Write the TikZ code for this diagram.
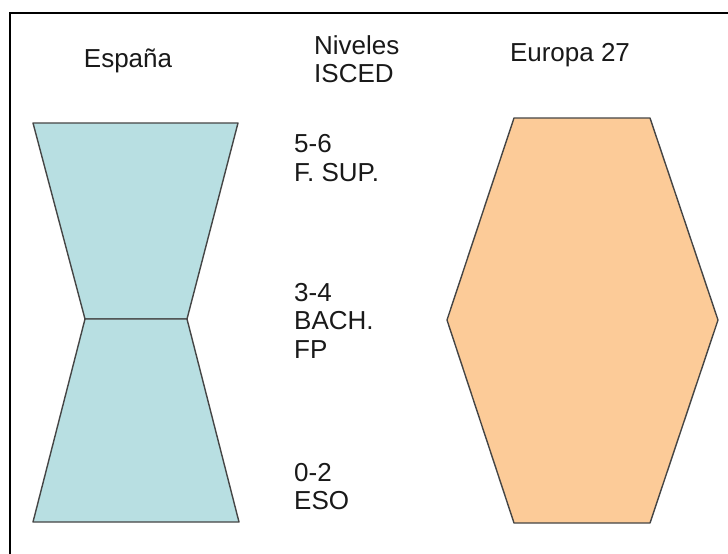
\documentclass[tikz,border=0pt]{standalone}
\usepackage{fontspec}
\setmainfont{Liberation Sans}
\definecolor{spainfill}{HTML}{B8DFE2}
\definecolor{eufill}{HTML}{FCCB98}
\definecolor{edge}{HTML}{454545}
\begin{document}
\begin{tikzpicture}[x=1pt,y=-1pt,
  lbl/.style={inner sep=0pt, font=\fontsize{26}{30}\selectfont, text=black!90},
  shapeline/.style={draw=edge, line width=1.4pt, line join=round}]
\useasboundingbox (0,0) rectangle (728,554);
\fill[white] (0,0) rectangle (728,554);
% frame
\draw[line width=1.5pt] (10,554) -- (10,13) -- (728,13);
% Spain
\filldraw[shapeline, fill=spainfill] (33,123) -- (238,123) -- (187,319) -- (85,319) -- cycle;
\filldraw[shapeline, fill=spainfill] (85,319) -- (187,319) -- (239,522) -- (33,522) -- cycle;
% Europe hexagon
\filldraw[shapeline, fill=eufill] (514,118) -- (650,118) -- (718,320) -- (650,523) -- (514,523) -- (447,320) -- cycle;
% headers
\node[lbl, anchor=base] (es) at (128,67) {España};
\node[lbl, anchor=base west] (niv1) at (314,54) {Niveles};
\node[lbl, anchor=base west] (niv2) at (314,82) {ISCED};
\node[lbl, anchor=base] (eu) at (570,61) {Europa 27};
% levels
\node[lbl, anchor=base west] (l56a) at (294,152) {5-6};
\node[lbl, anchor=base west] (l56b) at (294,181) {F. SUP.};
\node[lbl, anchor=base west] (l34a) at (294,301) {3-4};
\node[lbl, anchor=base west] (l34b) at (294,329) {BACH.};
\node[lbl, anchor=base west] (l34c) at (294,358) {FP};
\node[lbl, anchor=base west] (l02a) at (294,481) {0-2};
\node[lbl, anchor=base west] (l02b) at (294,509) {ESO};
\end{tikzpicture}
\end{document}
